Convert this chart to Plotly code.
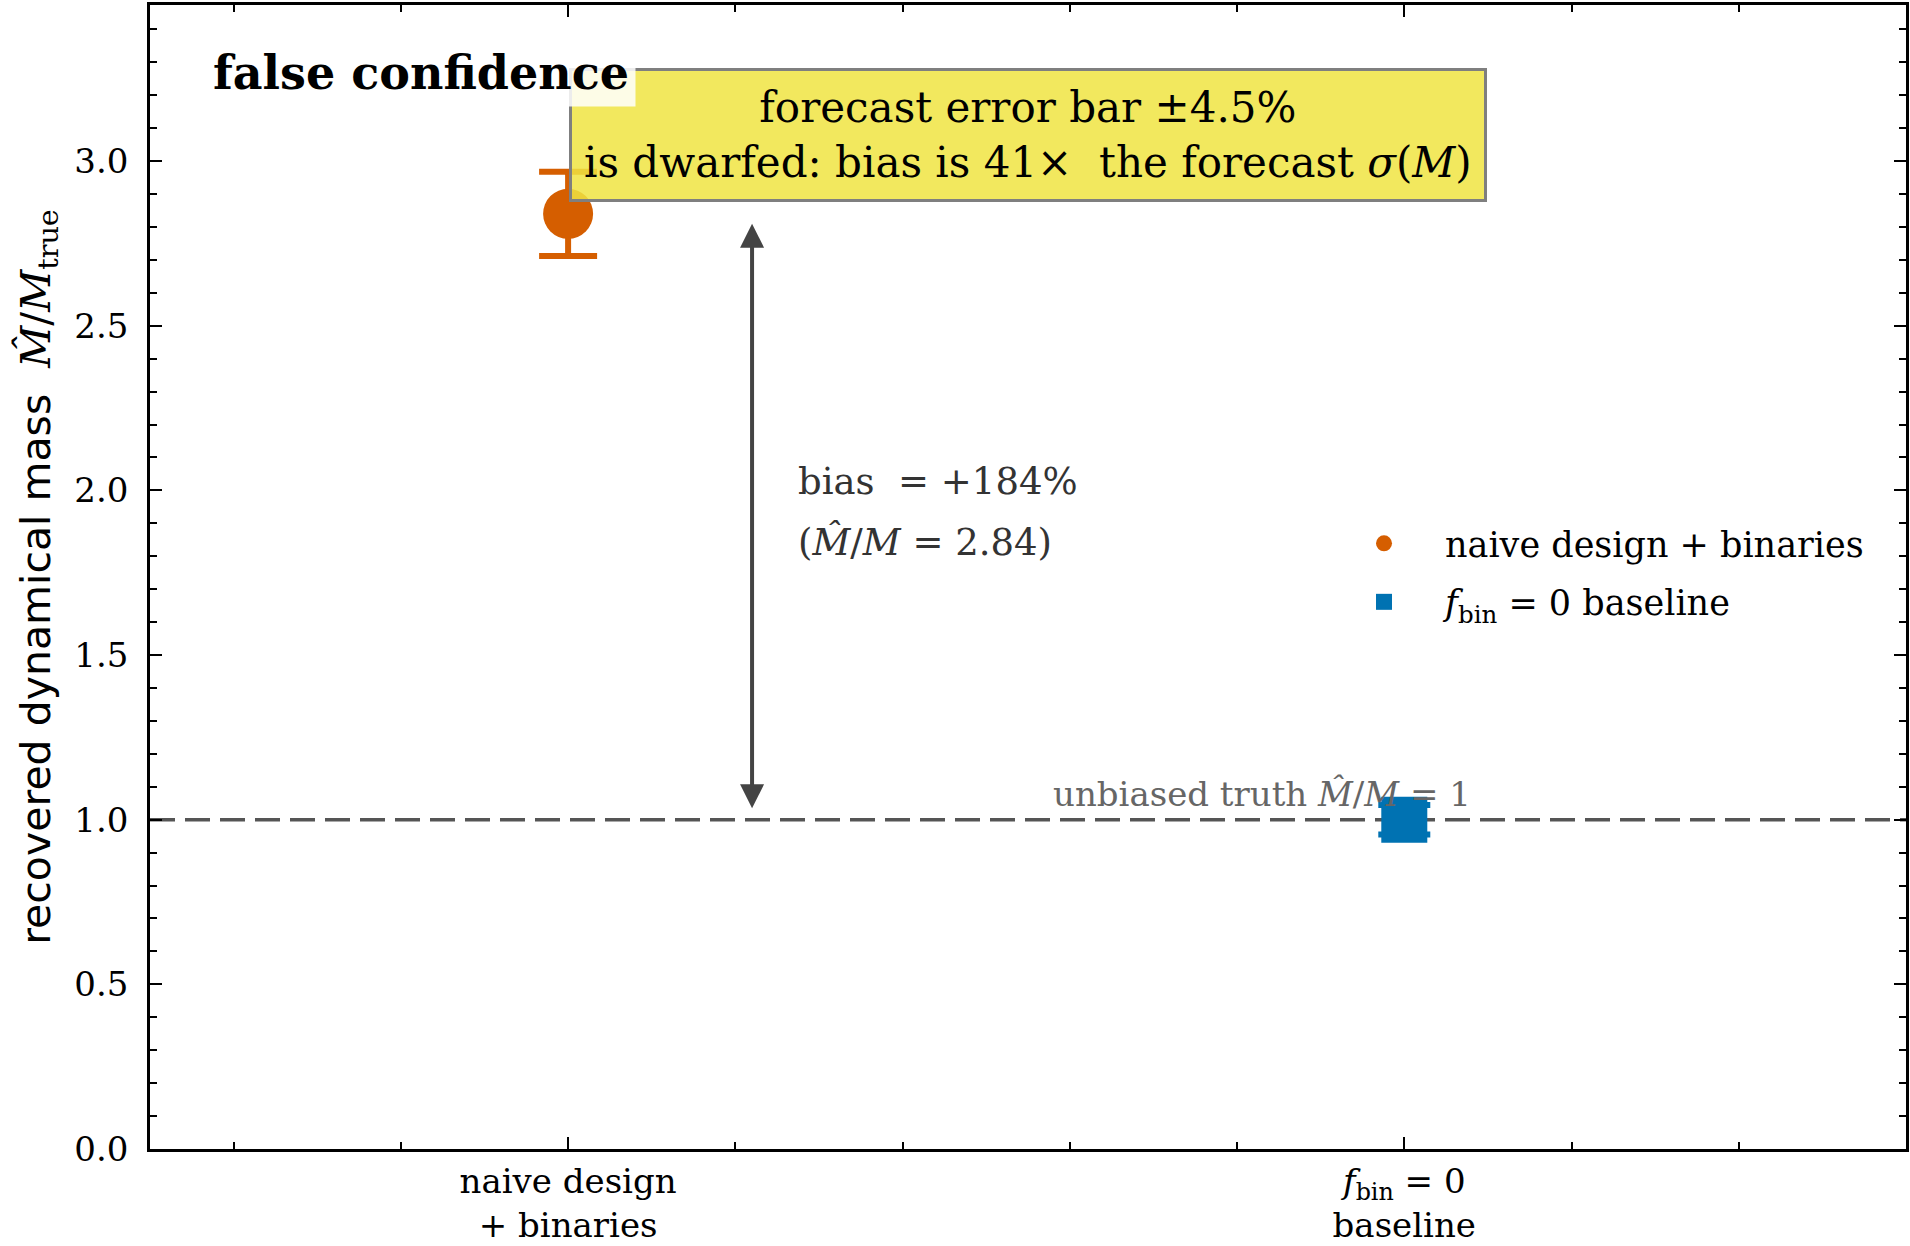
import plotly.graph_objects as go

# ---- data ----
categories = ["naive design<br>+ binaries", "<i>f</i><sub>bin</sub> = 0<br>baseline"]
legend_names = ["naive design + binaries", "<i>f</i><sub>bin</sub> = 0 baseline"]
x_pos = [0, 1]
mass_ratio = [2.84, 1.00]
mass_err = [0.128, 0.045]
truth_value = 1.0
forecast_sigma_pct = 4.5
y_ticks = [0.0, 0.5, 1.0, 1.5, 2.0, 2.5, 3.0]

ORANGE = "#D55E00"
BLUE = "#0072B2"
SERIF = "DejaVu Serif"
SANS = "DejaVu Sans"

bias_pct = (mass_ratio[0] / truth_value - 1) * 100
bias_over_sigma = (mass_ratio[0] - truth_value) / (forecast_sigma_pct / 100)

fig = go.Figure()

fig.add_hline(y=truth_value, line=dict(color="#555555", width=3.5, dash="25px,10px"), layer="below")

fig.add_trace(go.Scatter(
    x=[x_pos[0]], y=[mass_ratio[0]], mode="markers", name=legend_names[0],
    legendgroup="a",
    marker=dict(symbol="circle", size=50, color=ORANGE),
    error_y=dict(type="data", array=[mass_err[0]], color=ORANGE, thickness=6, width=29),
))
fig.add_trace(go.Scatter(
    x=[x_pos[1]], y=[mass_ratio[1]], mode="markers", name=legend_names[1],
    legendgroup="b",
    marker=dict(symbol="square", size=46, color=BLUE),
    error_y=dict(type="data", array=[mass_err[1]], color=BLUE, thickness=6, width=26),
))

annotations = []
# yellow callout box
annotations.append(dict(
    x=0.55, y=3.08, xref="x", yref="y", xanchor="center", yanchor="middle",
    text=f"forecast error bar ±{forecast_sigma_pct:g}%<br>is dwarfed: bias is {bias_over_sigma:.0f}×  the forecast <i>σ</i>(<i>M</i>)",
    showarrow=False, align="center",
    font=dict(family=SERIF, size=42, color="black"),
    bgcolor="rgba(240,228,66,0.85)", bordercolor="#7f7f7f", borderwidth=3, borderpad=12,
))
# panel title
annotations.append(dict(
    x=0.032, y=0.9406, xref="paper", yref="paper", xanchor="left", yanchor="middle",
    text="<b>false confidence</b>", showarrow=False,
    font=dict(family=SERIF, size=46, color="black"),
    bgcolor="rgba(255,255,255,0.85)", borderpad=6,
))
# double-headed arrow
annotations.append(dict(
    x=0.22, y=2.81, ax=0.22, ay=1.03, xref="x", yref="y", axref="x", ayref="y",
    text="", showarrow=True, arrowhead=2, startarrowhead=2, arrowside="end+start",
    arrowwidth=4, arrowsize=1.2, startarrowsize=1.2, arrowcolor="#444444",
))
# bias text
annotations.append(dict(
    x=0.273, y=2.027, xref="x", yref="y", xanchor="left", yanchor="middle",
    text=f"bias  = +{bias_pct:.0f}%", showarrow=False,
    font=dict(family=SERIF, size=37, color="#333333"),
))
annotations.append(dict(
    x=0.273, y=1.842, xref="x", yref="y", xanchor="left", yanchor="middle",
    text=f"(<i>M̂</i>/<i>M</i> = {mass_ratio[0]:.2f})", showarrow=False,
    font=dict(family=SERIF, size=37, color="#333333"),
))
# truth label
annotations.append(dict(
    x=0.83, y=truth_value, xref="x", yref="y", xanchor="center", yanchor="bottom",
    yshift=4,
    text="unbiased truth <i>M̂</i>/<i>M</i> = 1", showarrow=False,
    font=dict(family=SERIF, size=34, color="#666666"),
))

axis_common = dict(
    showline=True, linecolor="black", linewidth=2.5, mirror="allticks",
    ticks="inside", ticklen=12, tickwidth=2, tickcolor="black",
    showgrid=False, zeroline=False,
    tickfont=dict(family=SERIF, size=34, color="black"),
)

fig.update_layout(
    width=1910, height=1246,
    paper_bgcolor="white", plot_bgcolor="white",
    margin=dict(l=150, r=4, t=5, b=97),
    annotations=annotations,
    showlegend=True,
    legend=dict(
        x=0.668, y=0.555, xanchor="left", yanchor="top",
        font=dict(family=SERIF, size=35, color="black"),
        bgcolor="rgba(0,0,0,0)", traceorder="grouped", tracegroupgap=10,
        itemsizing="trace", itemwidth=112,
    ),
    xaxis=dict(
        **axis_common,
        range=[-0.5, 1.6],
        tickvals=x_pos, ticktext=categories,
        ticklabelstandoff=0,
        minor=dict(dtick=0.2, tick0=0, ticks="inside", ticklen=7, tickwidth=1.5, tickcolor="black"),
        automargin=False,
    ),
    yaxis=dict(
        **axis_common,
        range=[0, 3.474],
        tickvals=y_ticks, tickformat=".1f",
        ticklabelstandoff=12,
        minor=dict(dtick=0.1, tick0=0, ticks="inside", ticklen=7, tickwidth=1.5, tickcolor="black"),
        title=dict(
            text=f"<span style=\"font-family:{SANS}\">recovered dynamical mass</span>  <i>M̂</i>/<i>M</i><sub>true</sub>",
            font=dict(family=SERIF, size=41, color="black"),
            standoff=12,
        ),
        automargin=False,
    ),
)

fig.write_html(
    "out.html",
    config={"displayModeBar": False},
    post_script="document.body.style.margin='0px';document.body.style.overflow='hidden';",
)
